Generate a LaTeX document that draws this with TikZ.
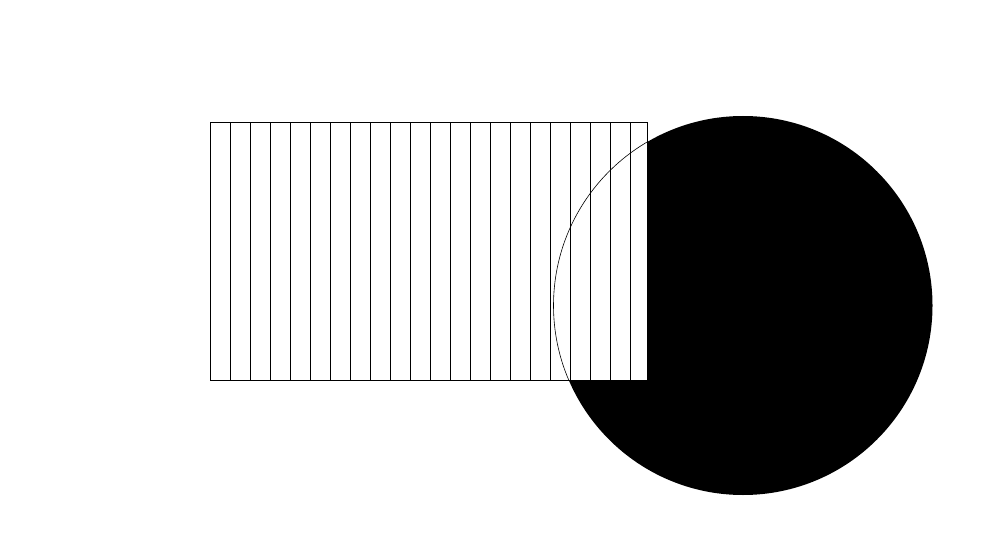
\documentclass[tikz,border=0pt]{standalone}
\usepackage{tikz}
\usepackage{xcolor}
\definecolor{ink}{HTML}{000000}
\definecolor{paper}{HTML}{FFFFFF}

\begin{document}
\begin{tikzpicture}[x=1pt,y=1pt]
      \useasboundingbox (0,0) rectangle (1000,550);
      \coordinate (disc) at (743,244.5);
      \coordinate (boxsw) at (210.5,170);
      \coordinate (boxne) at (647,428);
      \fill[ink] (disc) circle (189.5);
      \fill[paper] (boxsw) rectangle (boxne);
      \foreach \k in {230,250,...,630} {
        \draw[ink,line width=0.9pt] (\k,170) -- (\k,428);
      }
      \draw[ink,line width=0.9pt] (boxsw) rectangle (boxne);
      \begin{scope}
        \clip (boxsw) rectangle (boxne);
        \draw[ink,line width=0.6pt] (disc) circle (189.5);
      \end{scope}
    \end{tikzpicture}
\end{document}
